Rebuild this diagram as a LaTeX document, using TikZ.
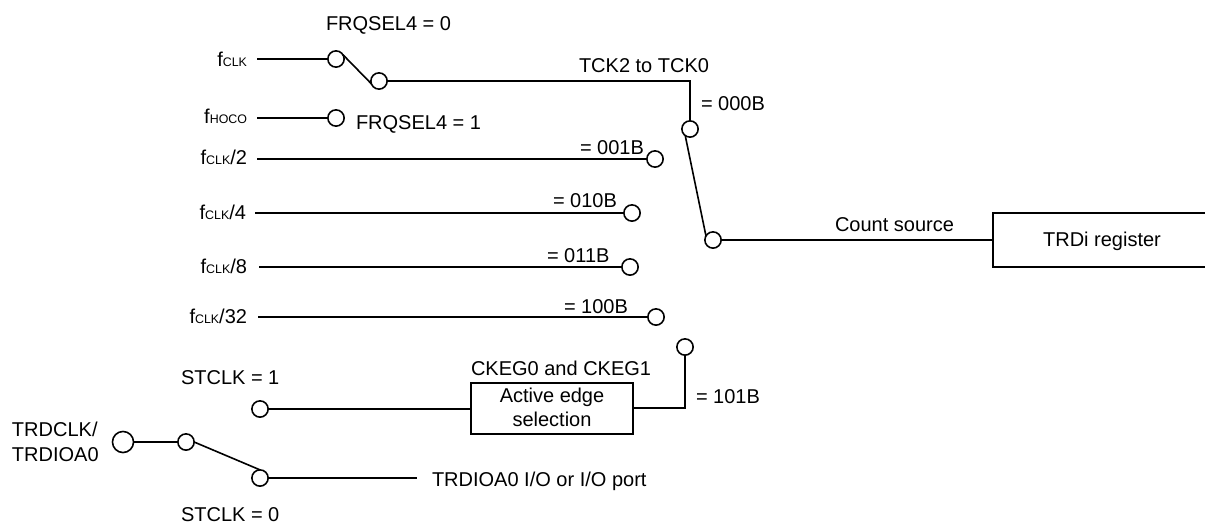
\documentclass[tikz,border=0pt]{standalone}
\usepackage{fontspec}
\setmainfont{Liberation Sans}
\newcommand{\sbs}[1]{{\fontsize{9.3}{11}\selectfont #1}}
\tikzset{
  wire/.style={line width=1.2pt,black,line join=miter},
  term/.style={circle,draw,line width=1.2pt,fill=white,inner sep=0pt,outer sep=0pt,minimum size=12.2pt},
  pin/.style={term,minimum size=15.8pt},
  lbl/.style={inner sep=0pt,outer sep=0pt,font=\fontsize{15}{17.3}\selectfont,text=black},
  lw/.style={lbl,anchor=base west},
  le/.style={lbl,anchor=base east},
  lc/.style={lbl,anchor=base},
  blockbox/.style={draw,line width=1.2pt,inner sep=0pt,outer sep=0pt,minimum width=121.5pt,minimum height=38.25pt}
}
\begin{document}
\begin{tikzpicture}[x=0.75pt,y=-0.75pt]
\useasboundingbox (0,0) rectangle (1205,525);
% free ends
\coordinate (s1) at (257,59);
\coordinate (s2) at (257,118);
\coordinate (s3) at (257,159);
\coordinate (s4) at (255,213);
\coordinate (s5) at (259,267);
\coordinate (s6) at (258,317);
\coordinate (e1) at (417,478);
\coordinate (corner) at (690,81);
\coordinate (bend) at (685,408);
\coordinate (regin) at (993,240);
\coordinate (rt) at (1205,213);
\coordinate (rtl) at (993,213);
\coordinate (rbl) at (993,267);
\coordinate (rb) at (1205,267);
% terminals
\node[term] (c1) at (336,59) {};
\node[term] (c2) at (379,81) {};
\node[term] (c3) at (336,118) {};
\node[term] (c000) at (690,129) {};
\node[term] (c001) at (655,159) {};
\node[term] (c010) at (632,213) {};
\node[term] (c011) at (630,267) {};
\node[term] (c100) at (656,317) {};
\node[term] (c101) at (685,347) {};
\node[term] (csrc) at (713,240) {};
\node[term] (st1) at (260,409) {};
\node[term] (st0) at (260,478) {};
\node[term] (sw) at (186,442) {};
\node[pin] (tp) at (123,442) {};
\node[blockbox] (edge) at (552,408.5) {};
% wires
\draw[wire] (s1) -- (c1.west);
\draw[wire] (s2) -- (c3.west);
\draw[wire] (s3) -- (c001.west);
\draw[wire] (s4) -- (c010.west);
\draw[wire] (s5) -- (c011.west);
\draw[wire] (s6) -- (c100.west);
\draw[wire] (c1.32) -- (c2.200);
\draw[wire] (c2.east) -- (corner) -- (c000.north);
\draw[wire] (c000.234) -- (csrc.150);
\draw[wire] (csrc.east) -- (regin);
\draw[wire] (rt) -- (rtl) -- (rbl) -- (rb);
\draw[wire] (tp.east) -- (sw.west);
\draw[wire] (sw.east) -- (st0.north);
\draw[wire] (st0.east) -- (e1);
\draw[wire] (st1.east) -- (edge.west |- st1.east);
\draw[wire] (edge.east |- bend) -- (bend) -- (c101.south);
% labels
\node[lw] (t1) at (326,30) {FRQSEL4 = 0};
\node[lw] (t2) at (356,129) {FRQSEL4 = 1};
\node[le] (l1) at (247,66) {f\sbs{CLK}};
\node[le] (l2) at (247,123) {f\sbs{HOCO}};
\node[le] (l3) at (247,164) {f\sbs{CLK}/2};
\node[le] (l4) at (246,219) {f\sbs{CLK}/4};
\node[le] (l5) at (247,273) {f\sbs{CLK}/8};
\node[le] (l6) at (247,323) {f\sbs{CLK}/32};
\node[lw] (t3) at (579,72) {TCK2 to TCK0};
\node[lw] (v0) at (701,110) {= 000B};
\node[lw] (v1) at (580,154) {= 001B};
\node[lw] (v2) at (553,207) {= 010B};
\node[lw] (v3) at (547,262) {= 011B};
\node[lw] (v4) at (564,313) {= 100B};
\node[lw] (v5) at (696,403) {= 101B};
\node[lw] (t4) at (835,231) {Count source};
\node[lc] (t5) at (1102,246) {TRDi register};
\node[lw] (t6) at (471,375) {CKEG0 and CKEG1};
\node[lc] (t7) at (552,402) {Active edge};
\node[lc] (t8) at (552,426) {selection};
\node[lw] (t9) at (181,384) {STCLK = 1};
\node[lw] (t10) at (181,521) {STCLK = 0};
\node[lw] (t11) at (12,436) {TRDCLK/};
\node[lw] (t12) at (12,461) {TRDIOA0};
\node[lw] (t13) at (432,486) {TRDIOA0 I/O or I/O port};
\end{tikzpicture}
\end{document}
